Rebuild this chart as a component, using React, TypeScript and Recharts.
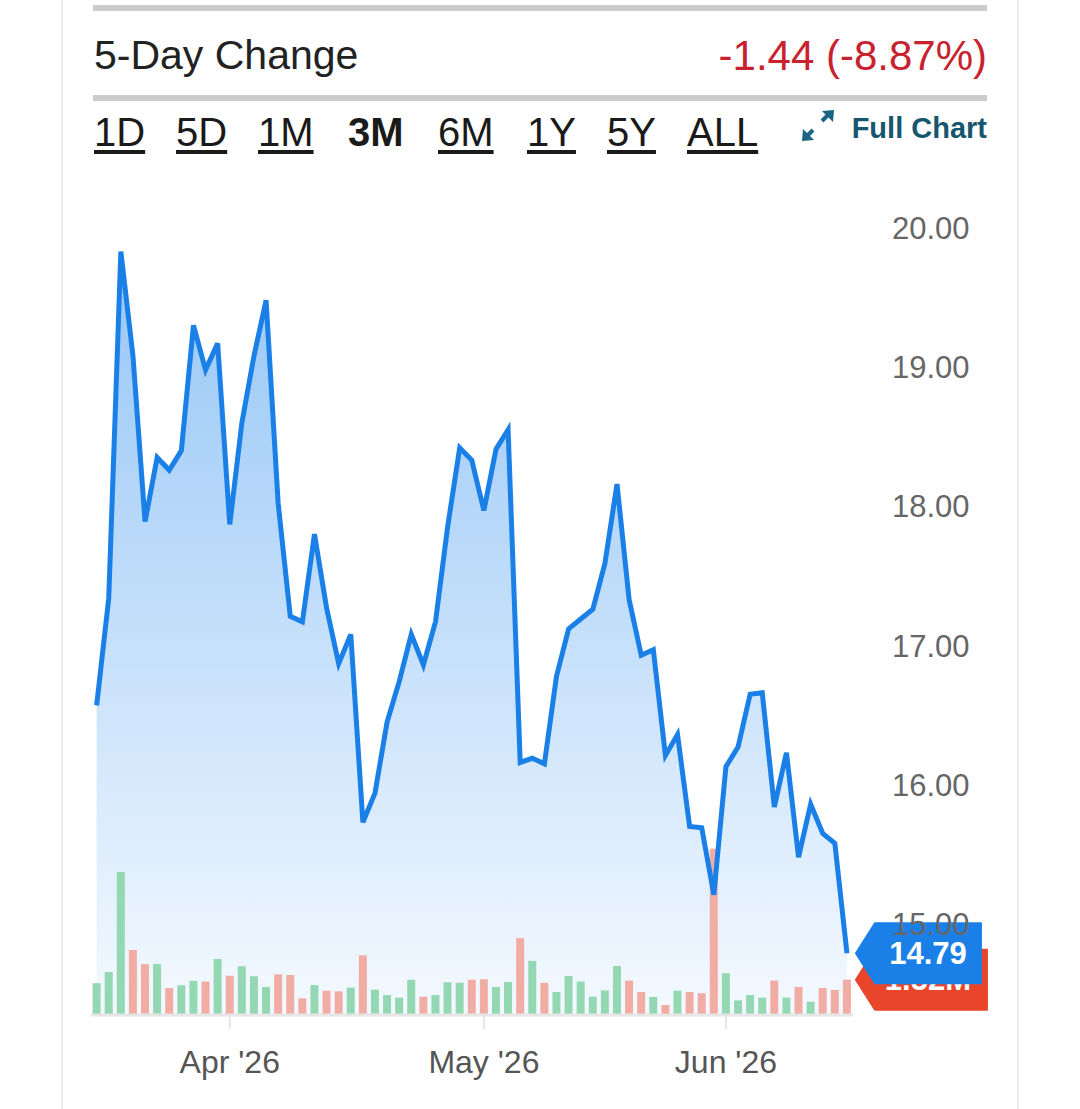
import React from "react";
import {
  ComposedChart,
  Area,
  Line,
  Bar,
  Cell,
  XAxis,
  YAxis,
  ReferenceDot,
} from "recharts";

// trading days, Mar 17 – Jun 15 2026
const dates = [
  "03-17", "03-18", "03-19", "03-20", "03-23", "03-24", "03-25", "03-26", "03-27", "03-30", "03-31",
  "04-01", "04-02", "04-06", "04-07", "04-08", "04-09", "04-10", "04-13", "04-14", "04-15", "04-16",
  "04-17", "04-20", "04-21", "04-22", "04-23", "04-24", "04-27", "04-28", "04-29", "04-30",
  "05-01", "05-04", "05-05", "05-06", "05-07", "05-08", "05-11", "05-12", "05-13", "05-14", "05-15",
  "05-18", "05-19", "05-20", "05-21", "05-22", "05-26", "05-27", "05-28", "05-29",
  "06-01", "06-02", "06-03", "06-04", "06-05", "06-08", "06-09", "06-10", "06-11", "06-12", "06-15",
];

const prices = [
  16.57, 17.34, 19.83, 19.08, 17.89, 18.35, 18.26, 18.4, 19.3, 18.98, 19.17,
  17.87, 18.6, 19.08, 19.48, 18.02, 17.21, 17.17, 17.8, 17.27, 16.87, 17.08,
  15.73, 15.94, 16.45, 16.74, 17.08, 16.86, 17.17, 17.85, 18.42, 18.33,
  17.97, 18.41, 18.55, 16.16, 16.19, 16.15, 16.78, 17.12, 17.19, 17.26, 17.59,
  18.16, 17.33, 16.93, 16.97, 16.21, 16.36, 15.7, 15.69, 15.21,
  16.13, 16.27, 16.65, 16.66, 15.84, 16.23, 15.48, 15.86, 15.65, 15.58, 14.79,
];

// volume, millions
const volumes = [
  1.37, 1.85, 6.16, 2.8, 2.19, 2.2, 1.16, 1.28, 1.47, 1.44, 2.41,
  1.69, 2.1, 1.67, 1.21, 1.75, 1.72, 0.72, 1.29, 1.05, 1.02, 1.18,
  2.57, 1.09, 0.86, 0.75, 1.52, 0.79, 0.86, 1.41, 1.39, 1.52,
  1.54, 1.21, 1.42, 3.31, 2.33, 1.39, 0.99, 1.68, 1.44, 0.79, 1.06,
  2.11, 1.48, 0.99, 0.78, 0.43, 1.05, 0.99, 0.94, 7.16,
  1.8, 0.63, 0.86, 0.75, 1.48, 0.75, 1.21, 0.57, 1.16, 1.08, 1.52,
];

const priceTicks = [15, 16, 17, 18, 19, 20];
const monthTicks = ["04-01", "05-01", "06-01"];
const monthLabels: Record<string, string> = {
  "04-01": "Apr '26",
  "05-01": "May '26",
  "06-01": "Jun '26",
};
const ranges = ["1D", "5D", "1M", "3M", "6M", "1Y", "5Y", "ALL"];
const activeRange = "3M";

const FONT = "'Liberation Sans', Arial, sans-serif";
const BLUE = "#1a80e8";
const UP = "#93d8b2";
const DOWN = "#f1aca4";

const data = dates.map((date, i) => ({
  date,
  price: prices[i],
  volume: volumes[i],
  up: i === 0 || prices[i] >= prices[i - 1],
}));

const last = data.length - 1;
const change = prices[last] - prices[last - 5];
const changePct = (change / prices[last - 5]) * 100;

function Tag({ cx, cy, fill, width, text }: any) {
  const tx = cx + 9;
  const pts = [
    [tx, cy],
    [tx + 19, cy - 30],
    [tx + width, cy - 30],
    [tx + width, cy + 30],
    [tx + 19, cy + 30],
  ]
    .map((p) => p.join(","))
    .join(" ");
  return (
    <g>
      <polygon points={pts} fill={fill} strokeLinejoin="round" stroke={fill} strokeWidth={2} />
      <text
        x={tx + 72}
        y={cy}
        textAnchor="middle"
        dominantBaseline="central"
        fill="#fff"
        fontSize={31}
        fontWeight={700}
        fontFamily={FONT}
      >
        {text}
      </text>
    </g>
  );
}

const btnX = [94, 176, 258, 348, 438, 527, 607, 687];

export default function App() {
  return (
    <div
      style={{
        position: "fixed",
        left: 0,
        top: 0,
        width: 1080,
        height: 1109,
        background: "#fff",
        fontFamily: FONT,
        overflow: "hidden",
      }}
    >
      <div style={{ position: "absolute", left: 61, top: 0, width: 2, height: 1109, background: "#ececec" }} />
      <div style={{ position: "absolute", left: 1017, top: 0, width: 2, height: 1109, background: "#ececec" }} />
      <div style={{ position: "absolute", left: 93, top: 5, width: 894, height: 6, background: "#cccccc" }} />
      <div style={{ position: "absolute", left: 93, top: 95, width: 894, height: 6, background: "#cccccc" }} />

      <div style={{ position: "absolute", left: 94, top: 35, fontSize: 41, lineHeight: "41px", color: "#222" }}>
        5-Day Change
      </div>
      <div
        style={{
          position: "absolute",
          right: 1080 - 987,
          top: 35,
          fontSize: 42,
          lineHeight: "42px",
          color: "#c8222e",
        }}
      >
        {change.toFixed(2)} ({changePct.toFixed(2)}%)
      </div>

      {ranges.map((r, i) => (
        <div
          key={r}
          style={{
            position: "absolute",
            left: btnX[i],
            top: 112,
            fontSize: 40,
            lineHeight: "40px",
            color: "#1a1a1a",
            fontWeight: r === activeRange ? 700 : 400,
            textDecoration: r === activeRange ? "none" : "underline",
            textDecorationThickness: 4,
            textUnderlineOffset: 4,
          }}
        >
          {r}
        </div>
      ))}

      <svg style={{ position: "absolute", left: 800, top: 108 }} width={40} height={36}>
        <g stroke="#1a6584" strokeWidth={4} fill="#1a6584">
          <line x1={13} y1={22} x2={7} y2={28} />
          <polygon points="2,33 3,21 14,32" strokeWidth={0} />
          <line x1={22} y1={13} x2={28} y2={7} />
          <polygon points="34,2 33,14 22,3" strokeWidth={0} />
        </g>
      </svg>
      <div
        style={{
          position: "absolute",
          right: 1080 - 987,
          top: 114,
          fontSize: 29,
          lineHeight: "29px",
          fontWeight: 700,
          color: "#17566f",
        }}
      >
        Full Chart
      </div>

      <div style={{ position: "absolute", left: 0, top: 180 }}>
        <ComposedChart
          width={1080}
          height={929}
          data={data}
          margin={{ top: 20, right: 87, bottom: 34, left: 90.6 }}
        >
          <defs>
            <linearGradient id="priceFill" x1="0" y1="0" x2="0" y2="1">
              <stop offset="0%" stopColor="#96c6f6" stopOpacity={1} />
              <stop offset="100%" stopColor="#f4f9ff" stopOpacity={1} />
            </linearGradient>
          </defs>
          <XAxis
            dataKey="date"
            ticks={monthTicks}
            interval={0}
            tickFormatter={(d: string) => monthLabels[d] ?? ""}
            height={60}
            axisLine={{ stroke: "#e6e6e6", strokeWidth: 3 }}
            tickLine={{ stroke: "#e6e6e6", strokeWidth: 2 }}
            tickSize={14}
            tickMargin={21}
            tick={{ fontSize: 32, fill: "#555", fontFamily: FONT }}
          />
          <YAxis
            yAxisId="price"
            orientation="right"
            width={140}
            domain={[14.346, 20.2]}
            allowDataOverflow
            ticks={priceTicks}
            tickFormatter={(v: number) => v.toFixed(2)}
            axisLine={false}
            tickLine={false}
            tickSize={0}
            tickMargin={39}
            tick={{ fontSize: 31, fill: "#666", fontFamily: FONT }}
          />
          <YAxis yAxisId="vol" hide domain={[0, 35.1]} allowDataOverflow />
          <Area
            yAxisId="price"
            type="linear"
            dataKey="price"
            stroke="none"
            fill="url(#priceFill)"
            fillOpacity={1}
            isAnimationActive={false}
          />
          <Bar yAxisId="vol" dataKey="volume" barSize={8} isAnimationActive={false}>
            {data.map((d) => (
              <Cell key={d.date} fill={d.up ? UP : DOWN} />
            ))}
          </Bar>
          <Line
            yAxisId="price"
            type="linear"
            dataKey="price"
            stroke={BLUE}
            strokeWidth={5}
            dot={false}
            isAnimationActive={false}
          />
          <ReferenceDot
            yAxisId="vol"
            x={dates[last]}
            y={volumes[last]}
            ifOverflow="visible"
            shape={(p: any) => (
              <Tag cx={p.cx} cy={p.cy} fill="#e8452b" width={131} text={`${volumes[last].toFixed(2)}M`} />
            )}
          />
          <ReferenceDot
            yAxisId="price"
            x={dates[last]}
            y={prices[last]}
            ifOverflow="visible"
            shape={(p: any) => (
              <Tag cx={p.cx} cy={p.cy} fill={BLUE} width={125} text={prices[last].toFixed(2)} />
            )}
          />
        </ComposedChart>
      </div>
    </div>
  );
}
